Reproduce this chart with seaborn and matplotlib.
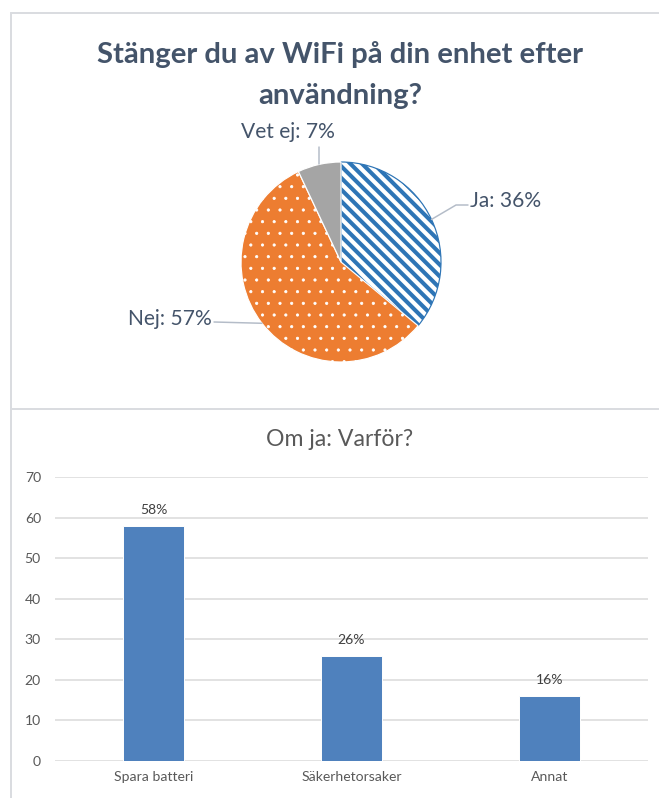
import numpy as np
import pandas as pd
import matplotlib
matplotlib.use("Agg")
import matplotlib.pyplot as plt
from matplotlib.lines import Line2D
import seaborn as sns

# ---------------- data ----------------
pie_title_lines = ["Stänger du av WiFi på din enhet efter", "användning?"]
pie_labels = ["Ja", "Nej", "Vet ej"]
pie_values = [36, 57, 7]

bar_title = "Om ja: Varför?"
bar_categories = ["Spara batteri", "Säkerhetorsaker", "Annat"]
bar_values = [58, 26, 16]
y_ticks = [0, 10, 20, 30, 40, 50, 60, 70]

# ---------------- style / layout ----------------
sns.set_theme(style="white")
plt.rcParams["font.family"] = ["Lato", "DejaVu Sans"]

DPI = 70
W, H = 659, 798


def pt(px):
    return px * 72.0 / DPI


fig = plt.figure(figsize=(W / DPI, H / DPI), dpi=DPI)
fig.patch.set_facecolor("white")

# panel borders
border = "#DADCE0"
fig.add_artist(Line2D([11 / W, 1], [1 - 13 / H, 1 - 13 / H], color=border, lw=pt(2)))
fig.add_artist(Line2D([11 / W, 11 / W], [0, 1 - 13 / H], color=border, lw=pt(2)))
fig.add_artist(Line2D([11 / W, 1], [1 - 409 / H, 1 - 409 / H], color=border, lw=pt(2)))

# ---------------- pie ----------------
title_color = "#44546A"
fig.text(340 / W, 1 - 55 / H, pie_title_lines[0], ha="center", va="center",
         fontsize=pt(29.2), fontweight="bold", color=title_color)
fig.text(340 / W, 1 - 96 / H, pie_title_lines[1], ha="center", va="center",
         fontsize=pt(29.2), fontweight="bold", color=title_color)

cx, cy, r = 341, 262, 100
ax_pie = fig.add_axes([(cx - r) / W, (H - cy - r) / H, 2 * r / W, 2 * r / H])

slice_styles = [
    dict(facecolor="white", edgecolor="#2E75B6", hatch="\\\\", hlw=4.2),
    dict(facecolor="#ED7D31", edgecolor="white", hatch=".", hlw=0.8),
    dict(facecolor="#A5A5A5", edgecolor="white", hatch=None, hlw=1.0),
]

with plt.rc_context({"hatch.linewidth": 4.2}):
    wedges, _ = ax_pie.pie(pie_values, startangle=90, counterclock=False, radius=1,
                           wedgeprops=dict(linewidth=pt(1.2)))
for w, st in zip(wedges, slice_styles):
    w.set_facecolor(st["facecolor"])
    w.set_edgecolor(st["edgecolor"])
    if st["hatch"]:
        w.set_hatch(st["hatch"])
    if hasattr(w, "set_hatch_linewidth"):
        w.set_hatch_linewidth(st["hlw"])
    else:
        w._hatch_linewidth = st["hlw"]
ax_pie.set_xlim(-1, 1)
ax_pie.set_ylim(-1, 1)
ax_pie.set_aspect("auto")
ax_pie.axis("off")

# label layout (text anchor, elbow point) in pie data units
label_layout = [
    dict(text_xy=(1.29, 0.61), ha="left", elbow=[(1.15, 0.57), (1.27, 0.57)]),
    dict(text_xy=(-1.29, -0.57), ha="right", elbow=[(-1.27, -0.60)]),
    dict(text_xy=(-0.53, 1.30), ha="center", elbow=[(-0.23, 1.15)]),
]
leader = "#B4BCC8"
for w, lab, val, lay in zip(wedges, pie_labels, pie_values, label_layout):
    mid = np.deg2rad((w.theta1 + w.theta2) / 2.0)
    ex, ey = np.cos(mid), np.sin(mid)
    pts = [(ex, ey)] + lay["elbow"]
    if lab == "Vet ej":
        pts = [(ex, ey), (ex, lay["elbow"][0][1])]
    xs, ys = zip(*pts)
    ax_pie.plot(xs, ys, color=leader, lw=pt(1.5), clip_on=False)
    ax_pie.text(lay["text_xy"][0], lay["text_xy"][1], f"{lab}: {val}%",
                ha=lay["ha"], va="center", fontsize=pt(21), color=title_color,
                clip_on=False)

# ---------------- bar chart ----------------
grey_text = "#595959"
fig.text(340 / W, 1 - 440 / H, bar_title, ha="center", va="center",
         fontsize=pt(23), color=grey_text)

ax_bar = fig.add_axes([55 / W, (H - 761) / H, (648 - 55) / W, (761 - 477) / H])
df = pd.DataFrame({"cat": bar_categories, "val": bar_values})
sns.barplot(data=df, x="cat", y="val", color="#4F81BD", saturation=1,
            width=0.31, ax=ax_bar, zorder=3)
ax_bar.set_xlim(-0.5, len(bar_categories) - 0.5)
ax_bar.set_ylim(y_ticks[0], y_ticks[-1])
ax_bar.set_yticks(y_ticks)
ax_bar.set_yticklabels([str(t) for t in y_ticks])
ax_bar.yaxis.grid(True, color="#D9D9D9", lw=pt(1.5), zorder=0)
ax_bar.xaxis.grid(False)
ax_bar.set_axisbelow(True)
for s in ax_bar.spines.values():
    s.set_visible(False)
ax_bar.set_xlabel("")
ax_bar.set_ylabel("")
ax_bar.tick_params(axis="y", length=0, pad=pt(14), labelsize=pt(14), labelcolor=grey_text)
ax_bar.tick_params(axis="x", length=0, pad=pt(10), labelsize=pt(14), labelcolor=grey_text)
for c in ax_bar.containers:
    ax_bar.bar_label(c, labels=[f"{v}%" for v in bar_values], padding=pt(10),
                     fontsize=pt(14), color="#404040")

fig.savefig("out.png", dpi=DPI, facecolor="white")
